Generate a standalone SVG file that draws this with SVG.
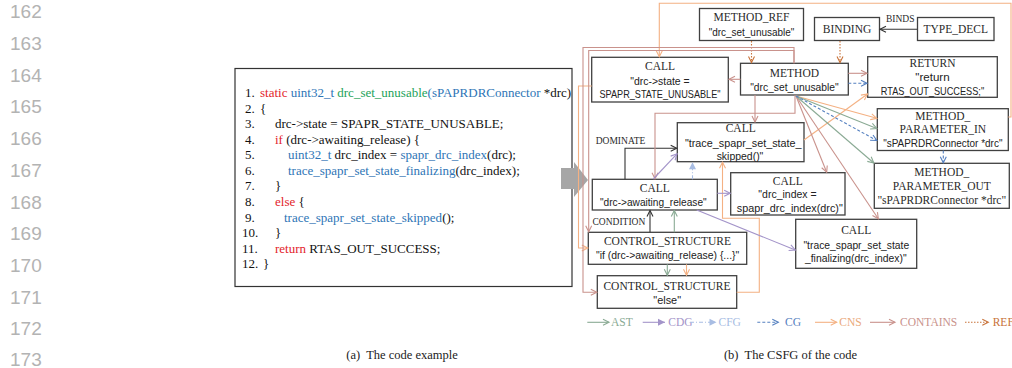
<svg xmlns="http://www.w3.org/2000/svg" width="1012" height="368" viewBox="0 0 1012 368">
  <style>
    .ln{font-family:"Liberation Sans",Arial,sans-serif;font-size:19px;fill:#b3b3b3}
    .code{font-family:"Liberation Serif","Times New Roman",serif;font-size:13px;fill:#111}
    .r{fill:#e3242b}.b{fill:#2e75b6}.g{fill:#23a25a}
    .box{fill:#fff;stroke:#404040;stroke-width:1.3}
    .t{font-family:"Liberation Serif","Times New Roman",serif;font-size:11.5px;fill:#2a2a2a;text-anchor:middle}
    .q{font-family:"Liberation Sans",Arial,sans-serif;font-size:11px;fill:#222;text-anchor:middle}
    .lbl{font-family:"Liberation Serif","Times New Roman",serif;font-size:9.5px;fill:#2a2a2a}
    .cap{font-family:"Liberation Serif","Times New Roman",serif;font-size:12.5px;fill:#222;text-anchor:middle}
    .lg{font-family:"Liberation Serif","Times New Roman",serif;font-size:11.5px}
    .e{fill:none;stroke-width:1.1}
    .ast{stroke:#8aaa94}.cdg{stroke:#a394c9}.cfg{stroke:#a8bde3;stroke-dasharray:4 2 1 2}
    .cg{stroke:#5580c0;stroke-dasharray:3 2}.cns{stroke:#f4b183}.con{stroke:#c9928c}
    .ref{stroke:#c8733a;stroke-dasharray:1.5 1.5}.blk{stroke:#333}
  </style>
  <defs>
    <marker id="mAST" markerWidth="8" markerHeight="8" refX="6" refY="3" orient="auto" markerUnits="userSpaceOnUse" overflow="visible"><path d="M0,0 L6,3 L0,6" fill="none" stroke="#8aaa94" stroke-width="1.1"/></marker>
    <marker id="mCDG" markerWidth="8" markerHeight="8" refX="6" refY="3" orient="auto" markerUnits="userSpaceOnUse" overflow="visible"><path d="M0,0 L6,3 L0,6" fill="none" stroke="#a394c9" stroke-width="1.1"/></marker>
    <marker id="mCDGf" markerWidth="8" markerHeight="8" refX="7" refY="3.5" orient="auto" markerUnits="userSpaceOnUse" overflow="visible"><path d="M0,0 L7,3.5 L0,7 z" fill="#a394c9"/></marker>
    <marker id="mCFG" markerWidth="8" markerHeight="8" refX="7" refY="3.5" orient="auto" markerUnits="userSpaceOnUse" overflow="visible"><path d="M0,0 L7,3.5 L0,7 z" fill="#a8bde3"/></marker>
    <marker id="mCG" markerWidth="8" markerHeight="8" refX="6" refY="3" orient="auto" markerUnits="userSpaceOnUse" overflow="visible"><path d="M0,0 L6,3 L0,6" fill="none" stroke="#5580c0" stroke-width="1.1"/></marker>
    <marker id="mCNS" markerWidth="8" markerHeight="8" refX="6" refY="3" orient="auto" markerUnits="userSpaceOnUse" overflow="visible"><path d="M0,0 L6,3 L0,6" fill="none" stroke="#f4b183" stroke-width="1.1"/></marker>
    <marker id="mCON" markerWidth="8" markerHeight="8" refX="6" refY="3" orient="auto" markerUnits="userSpaceOnUse" overflow="visible"><path d="M0,0 L6,3 L0,6" fill="none" stroke="#c9928c" stroke-width="1.1"/></marker>
    <marker id="mREF" markerWidth="8" markerHeight="8" refX="6" refY="3" orient="auto" markerUnits="userSpaceOnUse" overflow="visible"><path d="M0,0 L6,3 L0,6" fill="none" stroke="#c8733a" stroke-width="1.1"/></marker>
    <marker id="mBLK" markerWidth="8" markerHeight="8" refX="6" refY="3" orient="auto" markerUnits="userSpaceOnUse" overflow="visible"><path d="M0,0 L6,3 L0,6" fill="none" stroke="#333" stroke-width="1.1"/></marker>
  </defs>
  <rect width="1012" height="368" fill="#fff"/>

  <!-- page line numbers -->
  <g id="line-numbers" class="ln">
    <text x="10" y="18.3">162</text>
    <text x="10" y="50">163</text>
    <text x="10" y="81.7">164</text>
    <text x="10" y="113.4">165</text>
    <text x="10" y="145.1">166</text>
    <text x="10" y="176.8">167</text>
    <text x="10" y="208.5">168</text>
    <text x="10" y="240.2">169</text>
    <text x="10" y="271.9">170</text>
    <text x="10" y="303.6">171</text>
    <text x="10" y="335.3">172</text>
    <text x="10" y="366">173</text>
  </g>

  <!-- code listing -->
  <g id="code">
    <rect x="235" y="68.5" width="337" height="218" fill="#fff" stroke="#333" stroke-width="1.2"/>
    <g class="code">
      <text x="245" y="97"><tspan>1.</tspan><tspan x="260" class="r">static</tspan> <tspan class="b">uint32_t</tspan> <tspan class="g">drc_set_unusable</tspan><tspan class="b">(sPAPRDRConnector</tspan> *drc)</text>
      <text x="245" y="112.6">2.<tspan x="260">{</tspan></text>
      <text x="245" y="128.1">3.<tspan x="275">drc-&gt;state = SPAPR_STATE_UNUSABLE;</tspan></text>
      <text x="245" y="143.7">4.<tspan x="275" class="r">if</tspan> (drc-&gt;awaiting_release) {</text>
      <text x="245" y="159.3">5.<tspan x="288" class="b">uint32_t</tspan> drc_index = <tspan class="b">spapr_drc_index</tspan>(drc);</text>
      <text x="245" y="174.9">6.<tspan x="288" class="b">trace_spapr_set_state_finalizing</tspan>(drc_index);</text>
      <text x="245" y="190.4">7.<tspan x="275">}</tspan></text>
      <text x="245" y="206">8.<tspan x="275" class="r">else</tspan> {</text>
      <text x="245" y="221.6">9.<tspan x="284" class="b">trace_spapr_set_state_skipped</tspan>();</text>
      <text x="242" y="237.2">10.<tspan x="275">}</tspan></text>
      <text x="242" y="252.7">11.<tspan x="275" class="r">return</tspan> RTAS_OUT_SUCCESS;</text>
      <text x="242" y="268.3">12.<tspan x="263">}</tspan></text>
    </g>
  </g>

  <!-- transition arrow -->
  <g id="transform-arrow" fill="#a6a6a6">
    <rect x="561" y="168" width="13" height="21"/>
    <path d="M574,162 L588,180 L574,197 z"/>
  </g>

  <!-- graph nodes -->
  <g id="n-method-ref">
    <rect class="box" x="699.5" y="8.5" width="104" height="32"/>
    <text class="t" x="751.5" y="21">METHOD_REF</text>
    <text class="q" x="751.5" y="36" textLength="85.7" lengthAdjust="spacingAndGlyphs">"drc_set_unusable"</text>
  </g>
  <g id="n-binding">
    <rect class="box" x="814.5" y="17.5" width="65" height="23"/>
    <text class="t" x="847" y="33">BINDING</text>
  </g>
  <g id="n-type-decl">
    <rect class="box" x="917.5" y="17.5" width="76.5" height="23"/>
    <text class="t" x="955.7" y="33">TYPE_DECL</text>
  </g>
  <g id="n-call-state">
    <rect class="box" x="591.7" y="57.3" width="136.6" height="44.7"/>
    <text class="t" x="660" y="70.4">CALL</text>
    <text class="q" x="660" y="84.5" textLength="59.3" lengthAdjust="spacingAndGlyphs">"drc-&gt;state =</text>
    <text class="q" x="660" y="97.8" textLength="121" lengthAdjust="spacingAndGlyphs">SPAPR_STATE_UNUSABLE"</text>
  </g>
  <g id="n-method">
    <rect class="box" x="740.5" y="63.3" width="107.8" height="31.7"/>
    <text class="t" x="794.4" y="77">METHOD</text>
    <text class="q" x="794.4" y="90.5" textLength="88.4" lengthAdjust="spacingAndGlyphs">"drc_set_unusable"</text>
  </g>
  <g id="n-return">
    <rect class="box" x="867.7" y="56.7" width="129.6" height="40.6"/>
    <text class="t" x="932.5" y="67">RETURN</text>
    <text class="q" x="932.5" y="81.1" textLength="34.3" lengthAdjust="spacingAndGlyphs">"return</text>
    <text class="q" x="932.5" y="94.5" textLength="103.3" lengthAdjust="spacingAndGlyphs">RTAS_OUT_SUCCESS;"</text>
  </g>
  <g id="n-param-in">
    <rect class="box" x="877.3" y="108.7" width="131" height="41.8"/>
    <text class="t" x="942.8" y="120.4">METHOD_</text>
    <text class="t" x="942.8" y="133">PARAMETER_IN</text>
    <text class="q" x="942.8" y="146.8" textLength="119.3" lengthAdjust="spacingAndGlyphs">"sPAPRDRConnector *drc"</text>
  </g>
  <g id="n-param-out">
    <rect class="box" x="874.3" y="163.3" width="135" height="45"/>
    <text class="t" x="941.8" y="176.4">METHOD_</text>
    <text class="t" x="941.8" y="189.7">PARAMETER_OUT</text>
    <text class="t" x="941.8" y="203.5">"sPAPRDRConnector *drc"</text>
  </g>
  <g id="n-call-skipped">
    <rect class="box" x="677.3" y="122.7" width="126.7" height="39"/>
    <text class="t" x="740.7" y="132">CALL</text>
    <text class="q" x="743.3" y="147.1" textLength="116.7" lengthAdjust="spacingAndGlyphs">"trace_spapr_set_state_</text>
    <text class="q" x="740" y="159.6" textLength="46.7" lengthAdjust="spacingAndGlyphs">skipped()"</text>
  </g>
  <g id="n-call-awaiting">
    <rect class="box" x="592.3" y="179.3" width="125" height="30.7"/>
    <text class="t" x="654.8" y="192">CALL</text>
    <text class="q" x="653.3" y="205.5" textLength="106.7" lengthAdjust="spacingAndGlyphs">"drc-&gt;awaiting_release"</text>
  </g>
  <g id="n-call-index">
    <rect class="box" x="730.7" y="172.7" width="114.3" height="42.3"/>
    <text class="t" x="787.8" y="184.7">CALL</text>
    <text class="q" x="787.5" y="197.8" textLength="58.3" lengthAdjust="spacingAndGlyphs">"drc_index =</text>
    <text class="q" x="789.8" y="212" textLength="106" lengthAdjust="spacingAndGlyphs">spapr_drc_index(drc)"</text>
  </g>
  <g id="n-call-finalizing">
    <rect class="box" x="795.7" y="219.3" width="121" height="49"/>
    <text class="t" x="856.2" y="234.4">CALL</text>
    <text class="q" x="856.3" y="248.8" textLength="105.7" lengthAdjust="spacingAndGlyphs">"trace_spapr_set_state</text>
    <text class="q" x="855.8" y="262.1" textLength="101.7" lengthAdjust="spacingAndGlyphs">_finalizing(drc_index)"</text>
  </g>
  <g id="n-cs-if">
    <rect class="box" x="588.3" y="232.3" width="158.4" height="32"/>
    <text class="t" x="667.5" y="245.4">CONTROL_STRUCTURE</text>
    <text class="q" x="667.6" y="258.8" textLength="143.3" lengthAdjust="spacingAndGlyphs">"if (drc-&gt;awaiting_release) {...}"</text>
  </g>
  <g id="n-cs-else">
    <rect class="box" x="597.3" y="275.7" width="139.4" height="32.6"/>
    <text class="t" x="667" y="290.4">CONTROL_STRUCTURE</text>
    <text class="q" x="667.2" y="303.8" textLength="27.7" lengthAdjust="spacingAndGlyphs">"else"</text>
  </g>

  <!-- graph edges -->
  <g id="connectors" class="e">
    <!-- REF -->
    <path class="ref" d="M751.5,41 V62.5" marker-end="url(#mREF)"/>
    <path class="ref" d="M840,41 V62.5" marker-end="url(#mREF)"/>
    <!-- BINDS / DOMINATE / CONDITION -->
    <path class="blk" d="M917,29.3 H880" marker-end="url(#mBLK)"/>
    <path class="blk" d="M625,179.3 V148.3 H676.7" marker-end="url(#mBLK)"/>
    <path class="blk" d="M650,232.3 V210.5" marker-end="url(#mBLK)"/>
    <!-- CNS -->
    <path class="cns" d="M1008.3,117 H1011 V3.3 H659.3 V56.7" marker-end="url(#mCNS)"/>
    <path class="cns" d="M796,96 L876.8,118.3" marker-end="url(#mCNS)"/>
    <path class="cns" d="M804,140 L867.5,94" marker-end="url(#mCNS)"/>
    <path class="cns" d="M736.7,292.3 H759.3 V218.3 H722.5 V162.3" marker-end="url(#mCNS)"/>
    <path class="cns" d="M686.5,264.3 V275.2" marker-end="url(#mCNS)"/>
    <path class="cns" d="M591.7,86 H578.5 V248 H587.8" marker-end="url(#mCNS)"/>
    <!-- CONTAINS -->
    <path class="con" d="M740.5,79.3 H729" marker-end="url(#mCON)"/>
    <path class="con" d="M755,95 V122" marker-end="url(#mCON)"/>
    <path class="con" d="M848.3,73.3 H867" marker-end="url(#mCON)"/>
    <path class="con" d="M794,63.3 V47.5 H583 V292.3 H596.8" marker-end="url(#mCON)"/>
    <path class="con" d="M794,63.3 V50.5 H588.7 V231.7" marker-end="url(#mCON)"/>
    <path class="con" d="M795,95 V113.3 H655 V178.8" marker-end="url(#mCON)"/>
    <path class="con" d="M796,96 L826.7,172.2" marker-end="url(#mCON)"/>
    <path class="con" d="M796,96 L878.3,218.8" marker-end="url(#mCON)"/>
    <!-- AST -->
    <path class="ast" d="M796,96 L876.8,128.5" marker-end="url(#mAST)"/>
    <path class="ast" d="M796,96 L873.8,163" marker-end="url(#mAST)"/>
    <path class="ast" d="M674.3,232.3 V210.5" marker-end="url(#mAST)"/>
    <path class="ast" d="M667.3,264.3 V275.2" marker-end="url(#mAST)"/>
    <!-- CG -->
    <path class="cg" d="M848.3,83.3 H867" marker-end="url(#mCG)"/>
    <path class="cg" d="M796,96 L876.8,140.5" marker-end="url(#mCG)"/>
    <path class="cg" d="M943.3,150.5 V162.8" marker-end="url(#mCG)"/>
    <!-- CDG -->
    <path class="cdg" d="M653.3,179 L677,153.8" marker-end="url(#mCDG)"/>
    <path class="cdg" d="M717.3,193.3 H730.2" marker-end="url(#mCDG)"/>
    <path class="cdg" d="M696.7,210 L795.3,250" marker-end="url(#mCDG)"/>
    <!-- CFG -->
    <path class="cfg" d="M692.5,179.3 V162.2" marker-end="url(#mCFG)"/>
  </g>

  <!-- edge labels -->
  <g id="edge-labels" class="lbl">
    <text x="886" y="22">BINDS</text>
    <text x="595.7" y="144">DOMINATE</text>
    <text x="592.5" y="224.5">CONDITION</text>
  </g>

  <!-- legend -->
  <g id="legend" class="lg">
    <path class="e ast" d="M587.3,322.3 H609" marker-end="url(#mAST)"/>
    <text x="611" y="326.3" fill="#8aaa94">AST</text>
    <path class="e cdg" d="M642.7,322.3 H665" marker-end="url(#mCDGf)"/>
    <text x="668.3" y="326.3" fill="#a394c9">CDG</text>
    <path class="e cfg" d="M690,322.3 H716.5" marker-end="url(#mCFG)"/>
    <text x="718.5" y="326.3" fill="#a8bde3">CFG</text>
    <path class="e cg" d="M757.3,322.3 H778.3" marker-end="url(#mCG)"/>
    <text x="785" y="326.3" fill="#5580c0">CG</text>
    <path class="e cns" d="M815,322.3 H836.7" marker-end="url(#mCNS)"/>
    <text x="839.3" y="326.3" fill="#eaa97c">CNS</text>
    <path class="e con" d="M870,322.3 H895" marker-end="url(#mCON)"/>
    <text x="900" y="326.3" fill="#c9928c">CONTAINS</text>
    <path class="e ref" d="M965,322.3 H988.3" marker-end="url(#mREF)"/>
    <text x="992.7" y="326.3" fill="#c8733a">REF</text>
  </g>

  <!-- captions -->
  <g id="captions" class="cap">
    <text x="402" y="358.5" xml:space="preserve">(a)  The code example</text>
    <text x="790.5" y="358.5" xml:space="preserve">(b)  The CSFG of the code</text>
  </g>
</svg>
